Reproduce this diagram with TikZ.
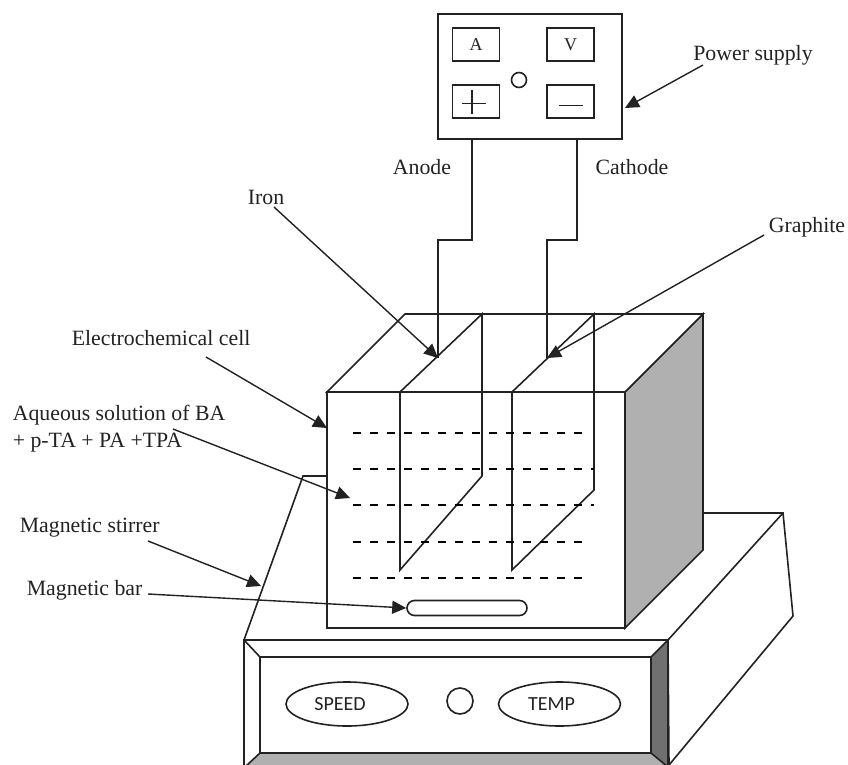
\documentclass[tikz,border=0pt]{standalone}
\usepackage{fontspec}
\setmainfont{Liberation Serif}
\newfontfamily\panelfont{Carlito}
\usetikzlibrary{arrows.meta,shapes.geometric}
\definecolor{ink}{HTML}{222222}
\definecolor{facegray}{HTML}{B0B0B0}
\definecolor{sidegray}{HTML}{707070}
\tikzset{
  x=1pt,y=-1pt,
  every path/.style={line width=1.6pt,line join=miter},
  lbl/.style={inner sep=0pt,font=\fontsize{21.8}{27}\selectfont,text=ink},
  meter/.style={draw=ink,fill=white,minimum width=47pt,minimum height=33pt,inner sep=0pt,font=\fontsize{18}{20}\selectfont,text=ink},
  knob/.style={ellipse,draw=ink,fill=white,minimum width=122pt,minimum height=44pt,inner sep=0pt,font=\panelfont\fontsize{20}{24}\selectfont,text=ink},
  ptr/.style={-{Triangle[length=14pt,width=13pt]},line width=1.4pt},
  wire/.style={line width=1.6pt},
  level/.style={line width=2.2pt,dash pattern=on 8pt off 9pt,draw=black},
}
\begin{document}
\begin{tikzpicture}[color=ink]
\useasboundingbox (0,0) rectangle (848,765);
% stirrer body
\draw[fill=white] (244,640) -- (303,476) -- (327,476) -- (327,628) -- (625,628) -- (703,513) -- (783,513) -- (793,616) -- (669,765) -- (668,640) -- cycle;
\draw (668,640) -- (783,513);
% front panel
\draw[fill=white] (244,640) -- (668,640) -- (668,766) -- (244,766) -- cycle;
\fill[facegray] (260,753) -- (651,753) -- (666,766) -- (246,766) -- cycle;
\draw[fill=sidegray] (651,657) -- (668,640) -- (668,767) -- (651,753) -- cycle;
\draw (260,657) rectangle (651,753);
\draw (244,640) -- (260,657);
\draw (260,753) -- (246,766);
\node[knob] (speed) at (347,704) {\raisebox{-3pt}{\hspace*{-14pt}SPEED}};
\node[knob] (temp) at (559.5,704) {\raisebox{-3pt}{\hspace*{-16pt}TEMP}};
\node[circle,draw=ink,minimum size=26pt,inner sep=0pt] (lamp) at (460,701) {};
% cell
\draw[fill=facegray] (625,392) -- (703,314) -- (703,550) -- (625,628) -- cycle;
\draw[fill=white] (327,392) -- (405,314) -- (703,314) -- (625,392) -- cycle;
\draw[fill=white] (327,392) rectangle (625,628);
% electrodes
\draw (400,392) -- (482,314) -- (482,476) -- (400,570) -- cycle;
\draw (512,392) -- (594,314) -- (594,490) -- (512,570) -- cycle;
% liquid levels
\coordinate (l1a) at (353,433); \coordinate (l1b) at (585,433);
\coordinate (l2a) at (353,469); \coordinate (l2b) at (594,469);
\coordinate (l3a) at (353,505); \coordinate (l3b) at (594,505);
\coordinate (l4a) at (353,542); \coordinate (l4b) at (585,542);
\coordinate (l5a) at (353,578); \coordinate (l5b) at (585,578);
\draw[level] (l1a) -- (l1b);
\draw[level] (l2a) -- (l2b);
\draw[level] (l3a) -- (l3b);
\draw[level] (l4a) -- (l4b);
\draw[level] (l5a) -- (l5b);
% stirring bar
\node[draw=ink,fill=white,rounded corners=7.5pt,minimum width=120pt,minimum height=15pt,inner sep=0pt] (bar) at (467,608) {};
% power supply
\node[draw=ink,fill=white,minimum width=184pt,minimum height=125pt,inner sep=0pt] (psu) at (530,76.5) {};
\node[meter] (ammeter) at (476,44.5) {A};
\node[meter] (voltmeter) at (570.5,44.5) {V};
\node[meter] (plus) at (476,101.5) {};
\node[meter] (minus) at (570.5,101.5) {};
\node[circle,draw=ink,minimum size=15pt,inner sep=0pt] (pilot) at (519,80) {};
\draw (plus.center) ++(-14,2) -- ++(24,0);
\draw (plus.center) ++(-4,-11) -- ++(0,24);
\draw (minus.center) ++(-12,4) -- ++(24,0);
% wires
\coordinate (anodeEnd) at (438,358);
\coordinate (cathodeEnd) at (547,358);
\draw[wire] (472,139) -- (472,240) -- (438,240) -- (anodeEnd);
\draw[wire] (577,139) -- (577,240) -- (547,240) -- (cathodeEnd);
% labels
\node[lbl] (anode) at (422,167) {Anode};
\node[lbl] (cathode) at (632,167) {Cathode};
\node[lbl] (powerlabel) at (753,55) {Power supply};
\node[lbl] (iron) at (266,197) {Iron};
\node[lbl] (graphite) at (807,227) {Graphite};
\node[lbl,anchor=west] (cell) at (71,338) {Electrochemical cell};
\node[lbl,anchor=north west,align=left] (solution) at (12,404) {Aqueous solution of BA\\+ p-TA + PA +TPA};
\node[lbl,anchor=west] (stirrer) at (19,528) {Magnetic stirrer};
\node[lbl,anchor=west] (barlabel) at (26,590) {Magnetic bar};
% pointers
\coordinate (psuTail) at (703,65);   \coordinate (psuTip) at (625,108);
\coordinate (ironTail) at (274,207); \coordinate (graphTail) at (764,235);
\coordinate (cellTail) at (206,357); \coordinate (cellTip) at (327,428);
\coordinate (solTail) at (173,429);  \coordinate (solTip) at (350,498);
\coordinate (stirTail) at (148,541); \coordinate (stirTip) at (261,586);
\coordinate (barTail) at (148,594);
\draw[ptr] (psuTail) -- (psuTip);
\draw[ptr] (ironTail) -- (anodeEnd);
\draw[ptr] (graphTail) -- (cathodeEnd);
\draw[ptr] (cellTail) -- (cellTip);
\draw[ptr] (solTail) -- (solTip);
\draw[ptr] (stirTail) -- (stirTip);
\draw[ptr] (barTail) -- (bar.west);
\end{tikzpicture}
\end{document}
